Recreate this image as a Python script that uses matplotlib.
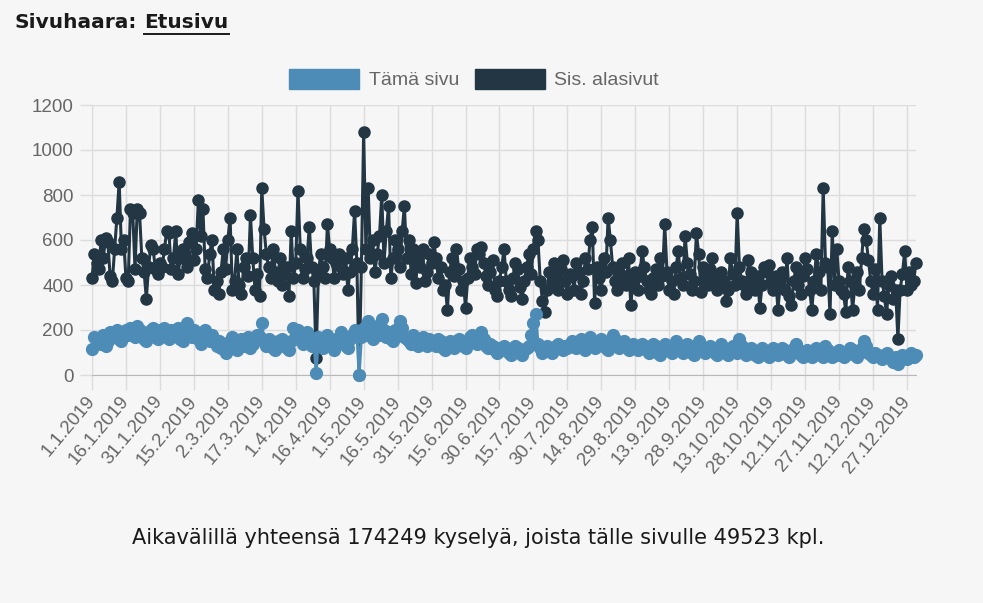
import matplotlib.pyplot as plt
import numpy as np
from matplotlib.patches import Patch
from matplotlib.lines import Line2D

# daily query counts for 2019
sub_jan = [430, 540, 500, 470, 600, 520, 610, 590, 440, 420, 560, 700, 860, 560, 600, 430, 420, 740, 720, 470,
           740, 720, 520, 460, 340, 480, 580, 560, 470, 450, 500]
sub_feb = [480, 560, 640, 630, 470, 520, 640, 450, 520, 560, 540, 480, 590, 630, 510, 560, 780, 620, 740, 470,
           430, 540, 600, 380, 420, 360, 460, 560]
sub_mar = [470, 600, 700, 380, 420, 560, 400, 360, 480, 520, 440, 710, 520, 380, 450, 350, 830, 650, 540, 480,
           430, 560, 460, 420, 520, 400, 450, 480, 350, 640, 430]
sub_apr = [500, 820, 560, 430, 470, 520, 660, 480, 420, 75, 450, 540, 480, 430, 670, 560, 520, 430, 500, 540,
           480, 450, 520, 380, 460, 560, 730, 500, 0, 480]
sub_may = [1080, 560, 830, 520, 600, 460, 540, 620, 800, 500, 640, 750, 430, 520, 600, 560, 480, 640, 750, 520,
           600, 450, 560, 410, 520, 480, 560, 420, 460, 540, 500]
sub_jun = [590, 520, 430, 480, 380, 400, 290, 460, 520, 440, 560, 470, 380, 420, 300, 430, 520, 480, 450, 560,
           540, 570, 500, 440, 400, 460, 510, 380, 350, 420]
sub_jul = [480, 560, 420, 380, 350, 430, 500, 470, 390, 340, 420, 480, 540, 450, 560, 640, 600, 420, 330, 280,
           380, 460, 400, 500, 440, 380, 470, 510, 420, 360, 450]
sub_aug = [440, 380, 500, 460, 360, 420, 520, 470, 600, 660, 320, 480, 430, 380, 520, 460, 700, 600, 480, 420,
           380, 460, 500, 440, 400, 520, 310, 420, 460, 380, 440]
sub_sep = [550, 480, 420, 380, 360, 430, 470, 400, 520, 440, 670, 460, 380, 420, 360, 480, 550, 430, 400, 620,
           500, 450, 380, 420, 630, 540, 370, 480, 430, 400]
sub_oct = [470, 520, 430, 380, 400, 460, 420, 330, 380, 520, 450, 400, 720, 480, 420, 400, 360, 510, 460, 420,
           380, 440, 300, 400, 480, 460, 490, 420, 380, 440, 290]
sub_nov = [400, 460, 380, 520, 350, 310, 420, 480, 400, 360, 440, 520, 470, 380, 290, 420, 540, 460, 380, 830,
           500, 480, 270, 640, 400, 560, 420, 380, 360, 280]
sub_dec = [480, 420, 290, 400, 460, 380, 520, 650, 600, 510, 420, 360, 470, 290, 700, 420, 350, 270, 400, 440,
           340, 380, 160, 380, 450, 550, 380, 460, 400, 420, 500]

page_jan = [115, 170, 160, 150, 140, 180, 130, 150, 190, 170, 180, 200, 160, 150, 190, 200, 180, 210, 190, 170,
            220, 200, 180, 160, 150, 190, 200, 210, 170, 160, 200]
page_feb = [190, 210, 170, 160, 200, 190, 180, 210, 160, 150, 180, 230, 190, 170, 200, 180, 160, 140, 190, 200,
            170, 150, 180, 160, 130, 150, 120, 140]
page_mar = [100, 130, 150, 170, 120, 110, 140, 160, 130, 150, 170, 120, 140, 160, 180, 170, 230, 150, 130, 160,
            140, 120, 110, 150, 130, 160, 140, 120, 110, 150, 210]
page_apr = [180, 200, 160, 140, 170, 190, 150, 130, 160, 10, 170, 140, 120, 150, 180, 160, 130, 110, 140, 170,
            190, 150, 130, 120, 160, 180, 200, 190, 0, 170]
page_may = [210, 180, 240, 200, 160, 190, 220, 180, 250, 200, 170, 190, 160, 150, 200, 180, 240, 210, 170, 160,
            150, 140, 180, 160, 130, 150, 170, 140, 130, 160, 150]
page_jun = [140, 130, 160, 150, 120, 110, 140, 150, 130, 120, 150, 160, 140, 130, 120, 150, 170, 180, 160, 140,
            170, 190, 160, 130, 120, 140, 130, 110, 100, 120]
page_jul = [110, 130, 120, 100, 90, 110, 130, 120, 100, 90, 110, 120, 130, 180, 230, 270, 140, 120, 100, 110,
            130, 120, 100, 110, 130, 140, 120, 110, 130, 120, 140]
page_aug = [150, 130, 120, 140, 160, 130, 110, 150, 170, 140, 120, 130, 150, 160, 140, 120, 110, 150, 180, 160,
            130, 120, 140, 150, 130, 110, 120, 140, 130, 110, 120]
page_sep = [140, 130, 110, 100, 120, 140, 130, 100, 90, 120, 140, 130, 110, 100, 120, 150, 130, 110, 100, 120,
            140, 130, 100, 90, 110, 150, 130, 110, 100, 120]
page_oct = [130, 110, 100, 90, 120, 140, 120, 100, 90, 110, 130, 120, 100, 160, 130, 110, 90, 100, 120, 110,
            90, 80, 100, 120, 110, 90, 80, 100, 120, 110, 90]
page_nov = [100, 120, 110, 90, 80, 100, 120, 140, 110, 90, 80, 100, 110, 90, 80, 100, 120, 110, 90, 80,
            130, 110, 90, 80, 100, 90, 110, 100, 80, 90]
page_dec = [100, 120, 110, 90, 80, 100, 120, 150, 130, 100, 90, 80, 100, 90, 80, 70, 90, 100, 80, 70,
            60, 80, 50, 70, 90, 80, 70, 90, 100, 80, 90]

tick_labels = ["1.1.2019", "16.1.2019", "31.1.2019", "15.2.2019", "2.3.2019", "17.3.2019", "1.4.2019",
               "16.4.2019", "1.5.2019", "16.5.2019", "31.5.2019", "15.6.2019", "30.6.2019", "15.7.2019",
               "30.7.2019", "14.8.2019", "29.8.2019", "13.9.2019", "28.9.2019", "13.10.2019", "28.10.2019",
               "12.11.2019", "27.11.2019", "12.12.2019", "27.12.2019"]
y_ticks = [0, 200, 400, 600, 800, 1000, 1200]

sub_pages = sub_jan + sub_feb + sub_mar + sub_apr + sub_may + sub_jun + sub_jul + sub_aug + sub_sep + sub_oct + sub_nov + sub_dec
this_page = page_jan + page_feb + page_mar + page_apr + page_may + page_jun + page_jul + page_aug + page_sep + page_oct + page_nov + page_dec
days = np.arange(len(sub_pages))

W, H = 983, 603
bg = "#f6f6f6"
blue = "#4d8cb6"
dark = "#223644"
grid = "#dcdcdc"
txt = "#666666"

fig = plt.figure(figsize=(W / 100, H / 100), dpi=100, facecolor=bg)
ax = fig.add_axes([92 / W, 1 - 375 / H, (916 - 92) / W, (375 - 105) / H], facecolor=bg)

# chart.js draws the first dataset on top, so dark goes first
ax.plot(days, sub_pages, color=dark, lw=2.2, marker="o", ms=8, mec=dark, mfc=dark, clip_on=False, zorder=3)
ax.plot(days, this_page, color=blue, lw=2.2, marker="o", ms=8.5, mec=blue, mfc=blue, clip_on=False, zorder=4)

ax.set_xlim(0, len(days) - 1)
ax.set_ylim(0, 1200)
ax.set_yticks(y_ticks)
ax.set_yticklabels([str(v) for v in y_ticks], fontsize=13.5, color=txt, family="Liberation Sans")
ax.set_xticks(np.arange(len(tick_labels)) * 15)
ax.set_xticklabels(tick_labels, fontsize=13.5, color=txt, family="Liberation Sans",
                   rotation=50, ha="right", va="center", rotation_mode="anchor")
ax.tick_params(axis="x", length=11, color=grid, width=1, pad=6)
ax.tick_params(axis="y", length=9, color=grid, width=1, pad=4)
ax.grid(True, color=grid, lw=1, zorder=0)
ax.set_axisbelow(True)
for s in ["top", "right"]:
    ax.spines[s].set_visible(False)
ax.spines["left"].set_color(grid)
ax.spines["bottom"].set_color("#b8b8b8")

handles = [Patch(facecolor=blue, edgecolor=blue, label="Tämä sivu"),
           Patch(facecolor=dark, edgecolor=dark, label="Sis. alasivut")]
ax.legend(handles=handles, loc="center", bbox_to_anchor=(474 / W, 1 - 79 / H), bbox_transform=fig.transFigure,
          ncol=2, frameon=False, handlelength=3.6, handleheight=1.2, handletextpad=0.5, columnspacing=0.8,
          prop={"family": "Liberation Sans", "size": 14}, labelcolor=txt)

# heading with underlined link part
t1 = fig.text(14 / W, 1 - 22 / H, "Sivuhaara:", fontsize=14.5, fontweight="bold", color="#1a1a1a",
              family="DejaVu Sans", va="center")
fig.canvas.draw()
bb = t1.get_window_extent()
x2 = bb.x1 + 8
t2 = fig.text(x2 / W, 1 - 22 / H, "Etusivu", fontsize=14.5, fontweight="bold", color="#1a1a1a",
              family="DejaVu Sans", va="center")
fig.canvas.draw()
bb2 = t2.get_window_extent()
fig.add_artist(Line2D([bb2.x0 / W, bb2.x1 / W], [(bb2.y0 - 2) / H, (bb2.y0 - 2) / H],
                      transform=fig.transFigure, color="#1a1a1a", lw=1.4))

fig.text(478 / W, 1 - 538 / H, "Aikavälillä yhteensä 174249 kyselyä, joista tälle sivulle 49523 kpl.",
         fontsize=15, color="#1a1a1a", family="DejaVu Sans", ha="center", va="center")

fig.savefig("out.png", dpi=100, facecolor=bg)
